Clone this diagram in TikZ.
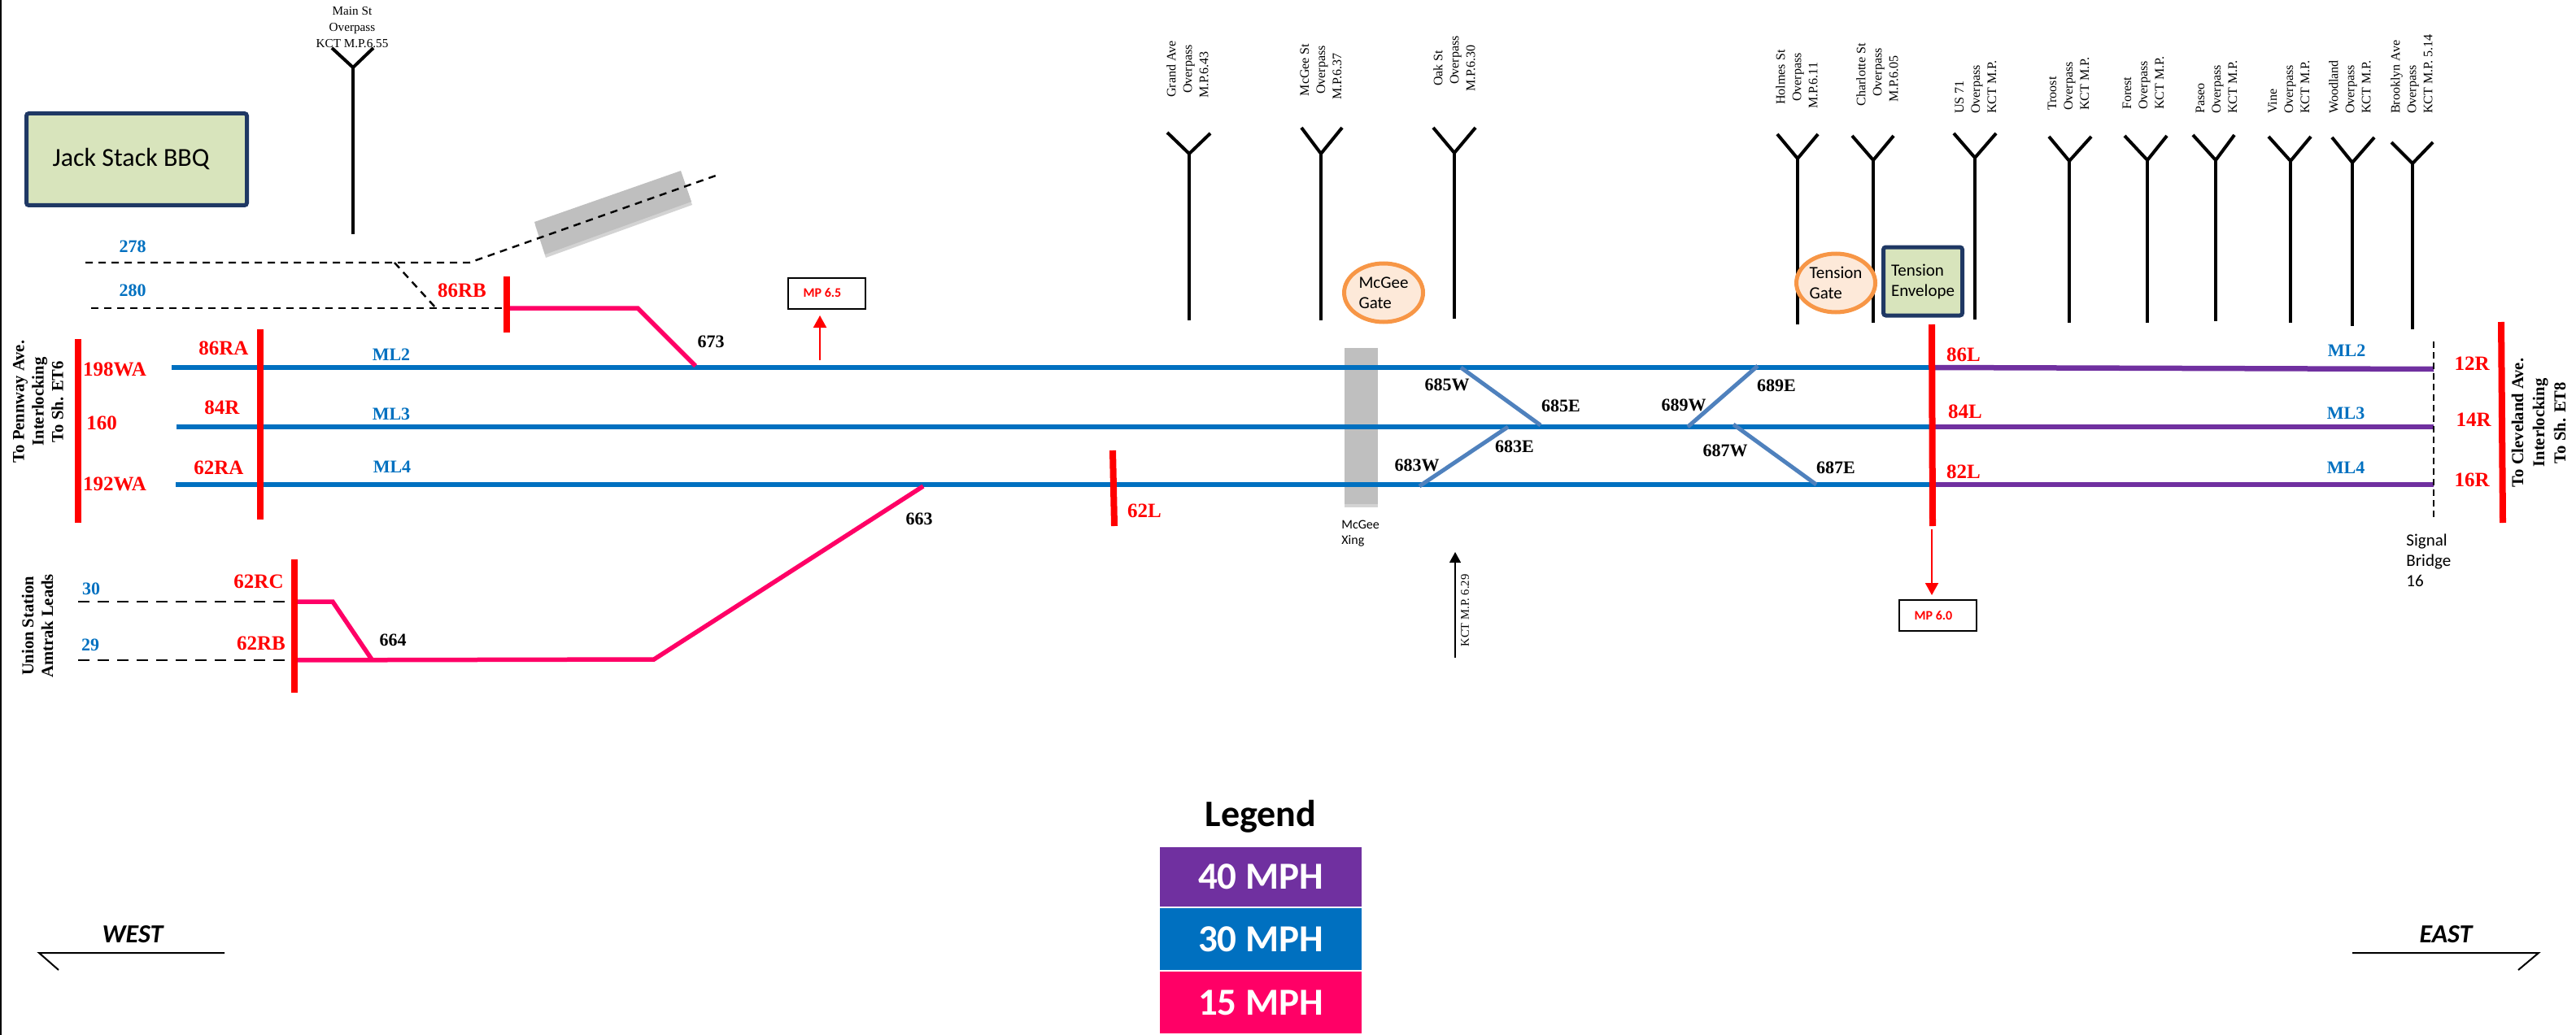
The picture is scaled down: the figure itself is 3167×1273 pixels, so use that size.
\documentclass[tikz,border=0pt]{standalone}
\usepackage{fontspec}
\setmainfont{Liberation Serif}
\newfontfamily\calibri{Carlito}
\usetikzlibrary{arrows.meta,shapes.geometric,shadows}
\definecolor{trackblue}{HTML}{0070C0}
\definecolor{trackpurple}{HTML}{7030A0}
\definecolor{trackpink}{HTML}{FF0066}
\definecolor{xoverblue}{HTML}{4F81BD}
\definecolor{boxgreen}{HTML}{D8E4BC}
\definecolor{boxnavy}{HTML}{1F3864}
\definecolor{gateorange}{HTML}{F79646}
\definecolor{gatefill}{HTML}{FDE9D9}
\definecolor{xinggray}{HTML}{BFBFBF}
\begin{document}
\begin{tikzpicture}[x=0.5pt,y=-0.5pt]
	\tikzstyle{signal}=[text=red,inner sep=0pt,font=\fontsize{12.5}{15}\selectfont\bfseries]
	\tikzstyle{tracklabel}=[text=trackblue,inner sep=0pt,font=\fontsize{11}{13}\selectfont\bfseries]
	\tikzstyle{switch}=[inner sep=0pt,font=\fontsize{11}{13}\selectfont\bfseries]
	\tikzstyle{bridge}=[inner sep=0pt,rotate=90,font=\fontsize{8}{10}\selectfont]
	\tikzstyle{limit}=[inner sep=0pt,rotate=90,align=center,font=\fontsize{10.3}{12}\selectfont\bfseries]
	\tikzstyle{note}=[inner sep=0pt,align=left,font=\calibri\fontsize{10.5}{12.5}\selectfont]
	\tikzstyle{greenbox}=[rectangle,rounded corners=1.5pt,draw=boxnavy,line width=2.5pt,fill=boxgreen,inner sep=0pt,align=left]
	\tikzstyle{gate}=[ellipse,draw=gateorange,line width=2.5pt,fill=gatefill,inner sep=0pt,minimum width=48.5pt,minimum height=36pt,align=left,font=\calibri\fontsize{10.5}{12.5}\selectfont]
	\tikzstyle{mpbox}=[rectangle,draw=black,line width=1pt,fill=white,inner sep=0pt,minimum width=47.5pt,minimum height=19pt,text=red,font=\calibri\fontsize{8}{10}\selectfont\bfseries]
	\tikzstyle{speed}=[rectangle,inner sep=0pt,minimum width=124pt,text=white,font=\calibri\fontsize{23.5}{28}\selectfont\bfseries]
	\tikzstyle{heading}=[inner sep=0pt,font=\calibri\fontsize{16}{19}\selectfont\bfseries\itshape]
	\tikzstyle{mainline}=[trackblue,line width=3.25pt]
	\tikzstyle{fastline}=[trackpurple,line width=3.25pt]
	\tikzstyle{slowline}=[trackpink,line width=2.75pt,line join=miter]
	\tikzstyle{xover}=[xoverblue,line width=2.5pt]
	\tikzstyle{redbar}=[red,line width=4pt]
	\tikzstyle{fork}=[black,line width=2pt]
	\tikzstyle{yard}=[black,line width=1.2pt,dash pattern=on 4.5pt off 3.5pt]
	\tikzstyle{lead}=[black,line width=1.4pt,dash pattern=on 7pt off 5pt]
	\tikzstyle{pointer}=[red,line width=1pt,-{Triangle[width=8pt,length=7.5pt]}]
	\useasboundingbox (0,0) rectangle (3167,1273);

	% page edge and grey crossings
	\coordinate (E1) at (1,0);
	\coordinate (E2) at (1,1273);
	\draw[black,line width=1pt] (E1) -- (E2);
	\fill[xinggray,drop shadow={shadow xshift=0.5pt,shadow yshift=-2pt,opacity=.35}] (657,273) -- (837,210) -- (850,248) -- (670,313) -- cycle;
	\fill[xinggray,drop shadow={shadow xshift=0pt,shadow yshift=-2pt,opacity=.35}] (1653,428) rectangle (1694,620);

	% overpasses
	\coordinate (S0) at (434,288);
	\coordinate (F0) at (434,83);
	\coordinate (A0) at (408,59);
	\coordinate (B0) at (459,59);
	\draw[fork] (S0) -- (F0);
	\draw[fork] (A0) -- (F0) -- (B0);
	\node[inner sep=0pt,align=center,font=\fontsize{7.6}{10}\selectfont] (T0) at (433,34) {Main St\\Overpass\\KCT M.P.6.55};

	\coordinate (S1) at (1462,394);
	\coordinate (F1) at (1462,189);
	\coordinate (A1) at (1435,163);
	\coordinate (B1) at (1488,164);
	\draw[fork] (S1) -- (F1);
	\draw[fork] (A1) -- (F1) -- (B1);
	\node[bridge,align=center] (T1) at (1460,85) {Grand Ave\\Overpass\\M.P.6.43\kern7pt};

	\coordinate (S2) at (1624,394);
	\coordinate (F2) at (1624,189);
	\coordinate (A2) at (1600,157);
	\coordinate (B2) at (1650,157);
	\draw[fork] (S2) -- (F2);
	\draw[fork] (A2) -- (F2) -- (B2);
	\node[bridge,align=center] (T2) at (1624,86) {McGee St\\Overpass\\M.P.6.37\kern8pt};

	\coordinate (S3) at (1788,392);
	\coordinate (F3) at (1788,188);
	\coordinate (A3) at (1762,157);
	\coordinate (B3) at (1814,157);
	\draw[fork] (S3) -- (F3);
	\draw[fork] (A3) -- (F3) -- (B3);
	\node[bridge,align=center] (T3) at (1788,84) {Oak St\\\hspace*{10pt}Overpass\\M.P.6.30};

	\coordinate (S4) at (2210,399);
	\coordinate (F4) at (2210,195);
	\coordinate (A4) at (2185,165);
	\coordinate (B4) at (2235,165);
	\draw[fork] (S4) -- (F4);
	\draw[fork] (A4) -- (F4) -- (B4);
	\node[bridge,align=center] (T4) at (2209,95) {Holmes St\\Overpass\\M.P.6.11\kern10pt};

	\coordinate (S5) at (2303,397);
	\coordinate (F5) at (2303,197);
	\coordinate (A5) at (2277,167);
	\coordinate (B5) at (2328,167);
	\draw[fork] (S5) -- (F5);
	\draw[fork] (A5) -- (F5) -- (B5);
	\node[bridge,align=center] (T5) at (2308,89) {Charlotte St\kern3pt\\Overpass\\M.P.6.05\kern8pt};

	\coordinate (S6) at (2428,393);
	\coordinate (F6) at (2428,194);
	\coordinate (A6) at (2402,164);
	\coordinate (B6) at (2454,164);
	\draw[fork] (S6) -- (F6);
	\draw[fork] (A6) -- (F6) -- (B6);
	\node[bridge,align=left] (T6) at (2429,107) {US 71\\Overpass\\KCT M.P.};

	\coordinate (S7) at (2544,397);
	\coordinate (F7) at (2544,198);
	\coordinate (A7) at (2519,168);
	\coordinate (B7) at (2571,168);
	\draw[fork] (S7) -- (F7);
	\draw[fork] (A7) -- (F7) -- (B7);
	\node[bridge,align=left] (T7) at (2543,103) {Troost\\Overpass\\KCT M.P.};

	\coordinate (S8) at (2640,397);
	\coordinate (F8) at (2640,197);
	\coordinate (A8) at (2612,167);
	\coordinate (B8) at (2664,167);
	\draw[fork] (S8) -- (F8);
	\draw[fork] (A8) -- (F8) -- (B8);
	\node[bridge,align=left] (T8) at (2635,102) {Forest\\Overpass\\KCT M.P.};

	\coordinate (S9) at (2724,395);
	\coordinate (F9) at (2724,197);
	\coordinate (A9) at (2696,166);
	\coordinate (B9) at (2747,166);
	\draw[fork] (S9) -- (F9);
	\draw[fork] (A9) -- (F9) -- (B9);
	\node[bridge,align=left] (T9) at (2725,107) {Paseo\\Overpass\\KCT M.P.};

	\coordinate (S10) at (2816,397);
	\coordinate (F10) at (2816,198);
	\coordinate (A10) at (2789,168);
	\coordinate (B10) at (2841,168);
	\draw[fork] (S10) -- (F10);
	\draw[fork] (A10) -- (F10) -- (B10);
	\node[bridge,align=left] (T10) at (2814,107) {Vine\\Overpass\\KCT M.P.};

	\coordinate (S11) at (2892,401);
	\coordinate (F11) at (2892,200);
	\coordinate (A11) at (2867,169);
	\coordinate (B11) at (2919,169);
	\draw[fork] (S11) -- (F11);
	\draw[fork] (A11) -- (F11) -- (B11);
	\node[bridge,align=left] (T11) at (2889,107) {Woodland\\Overpass\\KCT M.P.};

	\coordinate (S12) at (2966,405);
	\coordinate (F12) at (2966,201);
	\coordinate (A12) at (2940,175);
	\coordinate (B12) at (2991,175);
	\draw[fork] (S12) -- (F12);
	\draw[fork] (A12) -- (F12) -- (B12);
	\node[bridge,align=left] (T12) at (2965,91) {Brooklyn Ave\\Overpass\\KCT M.P. 5.14};

	% boxes and gates
	\node[greenbox,minimum width=135.5pt,minimum height=56.5pt,font=\calibri\fontsize{16}{19}\selectfont] (jack) at (168,196) {Jack Stack BBQ\kern7pt};
	\node[gate] (mcgeegate) at (1701,360) {McGee\\Gate};
	\node[gate] (tensiongate) at (2257,348) {Tension\\Gate};
	\node[greenbox,minimum width=48.5pt,minimum height=42pt,font=\calibri\fontsize{10.5}{12.5}\selectfont] (envelope) at (2364,346) {Tension\\Envelope};

	% yard leads
	\coordinate (Y1) at (105,323);
	\coordinate (Y2) at (485,323);
	\coordinate (Y3) at (577,323);
	\coordinate (Y4) at (880,216);
	\coordinate (Y5) at (112,379);
	\coordinate (Y6) at (536,379);
	\coordinate (Y7) at (623,379);
	\coordinate (Y8) at (784,379);
	\coordinate (Y9) at (855,450);
	\draw[yard] (Y1) -- (Y2) -- (Y3) -- (Y4);
	\draw[yard] (Y2) -- (Y6);
	\draw[yard] (Y5) -- (Y7);

	% main tracks
	\coordinate (M2a) at (211,452);
	\coordinate (M2b) at (2375,452);
	\coordinate (M2c) at (2992,454);
	\coordinate (M3a) at (217,525);
	\coordinate (M3b) at (2375,525);
	\coordinate (M3c) at (2992,525);
	\coordinate (M4a) at (216,596);
	\coordinate (M4b) at (2375,596);
	\coordinate (M4c) at (2992,596);
	\draw[mainline] (M2a) -- (M2b);
	\draw[mainline] (M3a) -- (M3b);
	\draw[mainline] (M4a) -- (M4b);
	\draw[fastline] (M2b) -- (M2c);
	\draw[fastline] (M3b) -- (M3c);
	\draw[fastline] (M4b) -- (M4c);

	% crossovers
	\coordinate (X1) at (1796,452);
	\coordinate (X2) at (1894,523);
	\coordinate (X3) at (1745,598);
	\coordinate (X4) at (1854,525);
	\coordinate (X5) at (2161,450);
	\coordinate (X6) at (2075,525);
	\coordinate (X7) at (2131,522);
	\coordinate (X8) at (2233,596);
	\draw[xover] (X1) -- (X2);
	\draw[xover] (X3) -- (X4);
	\draw[xover] (X5) -- (X6);
	\draw[xover] (X7) -- (X8);

	% leads to the main tracks
	\coordinate (U1) at (96,740);
	\coordinate (U2) at (362,740);
	\coordinate (U3) at (409,740);
	\coordinate (U4) at (457,811);
	\coordinate (U5) at (96,812);
	\coordinate (U6) at (362,812);
	\coordinate (U7) at (804,811);
	\coordinate (U8) at (1135,598);
	\draw[lead] (U1) -- (U2);
	\draw[lead] (U5) -- (U6);
	\draw[slowline] (U2) -- (U3) -- (U4);
	\draw[slowline] (U6) -- (U7) -- (U8);
	\draw[slowline] (Y7) -- (Y8) -- (Y9);

	% signal bars
	\coordinate (R1a) at (96,417);
	\coordinate (R1b) at (96,643);
	\coordinate (R2a) at (320,405);
	\coordinate (R2b) at (320,639);
	\coordinate (R3a) at (623,340);
	\coordinate (R3b) at (623,409);
	\coordinate (R4a) at (362,688);
	\coordinate (R4b) at (362,852);
	\coordinate (R5a) at (1368,554);
	\coordinate (R5b) at (1370,647);
	\coordinate (R6a) at (2375,399);
	\coordinate (R6b) at (2376,647);
	\coordinate (R7a) at (3075,396);
	\coordinate (R7b) at (3077,643);
	\draw[redbar] (R1a) -- (R1b);
	\draw[redbar] (R2a) -- (R2b);
	\draw[redbar] (R3a) -- (R3b);
	\draw[redbar] (R4a) -- (R4b);
	\draw[redbar] (R5a) -- (R5b);
	\draw[redbar] (R6a) -- (R6b);
	\draw[redbar] (R7a) -- (R7b);

	% signal bridge 16
	\coordinate (G1) at (2992,420);
	\coordinate (G2) at (2992,637);
	\draw[black,line width=0.8pt,dash pattern=on 4pt off 2.5pt] (G1) -- (G2);
	\node[note,anchor=north west] (bridge16) at (2958,657) {Signal\\Bridge\\16};

	% signal names
	\node[signal] (n198WA) at (141,454) {198WA};
	\node[signal] (n160) at (125,520) {160};
	\node[signal] (n192WA) at (141,595) {192WA};
	\node[signal] (n86RA) at (275,428) {86RA};
	\node[signal] (n84R) at (273,501) {84R};
	\node[signal] (n62RA) at (269,575) {62RA};
	\node[signal] (n86RB) at (568,357) {86RB};
	\node[signal] (n62RC) at (318,715) {62RC};
	\node[signal] (n62RB) at (321,791) {62RB};
	\node[signal] (n62L) at (1407,628) {62L};
	\node[signal] (n86L) at (2414,436) {86L};
	\node[signal] (n84L) at (2416,506) {84L};
	\node[signal] (n82L) at (2414,580) {82L};
	\node[signal] (n12R) at (3039,447) {12R};
	\node[signal] (n14R) at (3041,516) {14R};
	\node[signal] (n16R) at (3039,590) {16R};

	% track names
	\node[tracklabel] (t278) at (163,303) {278};
	\node[tracklabel] (t280) at (163,357) {280};
	\node[tracklabel] (t30) at (112,724) {30};
	\node[tracklabel] (t29) at (111,793) {29};
	\node[tracklabel] (wML2) at (481,436) {ML2};
	\node[tracklabel] (wML3) at (481,509) {ML3};
	\node[tracklabel] (wML4) at (482,574) {ML4};
	\node[tracklabel] (eML2) at (2885,431) {ML2};
	\node[tracklabel] (eML3) at (2884,508) {ML3};
	\node[tracklabel] (eML4) at (2884,575) {ML4};

	% switches
	\node[switch] (s673) at (874,420) {673};
	\node[switch] (s663) at (1130,638) {663};
	\node[switch] (s664) at (483,787) {664};
	\node[switch] (s685W) at (1779,473) {685W};
	\node[switch] (s685E) at (1919,499) {685E};
	\node[switch] (s689W) at (2070,498) {689W};
	\node[switch] (s689E) at (2184,474) {689E};
	\node[switch] (s683E) at (1862,549) {683E};
	\node[switch] (s683W) at (1742,572) {683W};
	\node[switch] (s687W) at (2121,554) {687W};
	\node[switch] (s687E) at (2257,575) {687E};

	% limits
	\node[limit] (west) at (47,494) {To Pennway Ave.\\Interlocking\\To Sh. ET6};
	\node[limit] (union) at (46,770) {Union Station\\Amtrak Leads};
	\node[limit,font=\fontsize{10.3}{13}\selectfont\bfseries] (east) at (3121,520) {To Cleveland Ave.\\Interlocking\\To Sh. ET8};

	% mile posts
	\node[mpbox] (mp65) at (1016,360.5) {MP 6.5\kern5pt};
	\coordinate (P1) at (1008,443);
	\coordinate (P2) at (1008,388);
	\draw[pointer] (P1) -- (P2);
	\node[mpbox] (mp60) at (2382,757) {MP 6.0\kern5pt};
	\coordinate (P3) at (2375,651);
	\coordinate (P4) at (2375,732);
	\draw[pointer] (P3) -- (P4);
	\coordinate (P5) at (1789,809);
	\coordinate (P6) at (1789,679);
	\draw[black,line width=0.6pt,-{Triangle[width=7pt,length=6.5pt]}] (P5) -- (P6);
	\node[inner sep=0pt,rotate=90,font=\fontsize{7.3}{9}\selectfont] (kct) at (1801,751) {KCT M.P. 6.29};
	\node[note,anchor=north west,font=\calibri\fontsize{8}{9.5}\selectfont] (xing) at (1649,640) {McGee\\Xing};

	% direction marks
	\coordinate (W1) at (276,1172);
	\coordinate (W2) at (48,1172);
	\coordinate (W3) at (72,1193);
	\draw[black,line width=1pt] (W1) -- (W2) -- (W3);
	\node[heading] (westtext) at (163,1149) {WEST};
	\coordinate (W4) at (2892,1172);
	\coordinate (W5) at (3121,1172);
	\coordinate (W6) at (3096,1193);
	\draw[black,line width=1pt] (W4) -- (W5) -- (W6);
	\node[heading] (easttext) at (3007,1149) {EAST};

	% legend
	\node[inner sep=0pt,font=\calibri\fontsize{23}{28}\selectfont\bfseries] (legend) at (1550,1004) {Legend};
	\node[speed,fill=trackpurple,minimum height=36.5pt] (mph40) at (1550,1078.5) {40 MPH};
	\node[speed,fill=trackblue,minimum height=38pt] (mph30) at (1550,1155) {30 MPH};
	\node[speed,fill=trackpink,minimum height=38pt] (mph15) at (1550,1233) {15 MPH};
\end{tikzpicture}
\end{document}
